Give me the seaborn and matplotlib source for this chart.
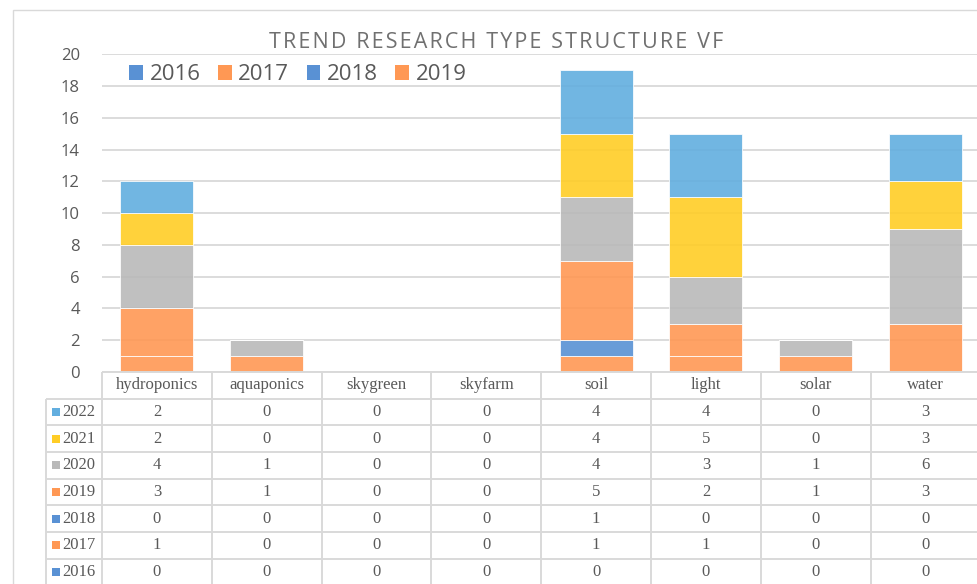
import numpy as np
import pandas as pd
import matplotlib
matplotlib.use("Agg")
import matplotlib.pyplot as plt
from matplotlib.patches import Patch, Rectangle
import seaborn as sns

categories = ['hydroponics', 'aquaponics', 'skygreen', 'skyfarm', 'soil', 'light', 'solar', 'water']
years = ['2016', '2017', '2018', '2019', '2020', '2021', '2022']
v2016 = [0, 0, 0, 0, 0, 0, 0, 0]
v2017 = [1, 0, 0, 0, 1, 1, 0, 0]
v2018 = [0, 0, 0, 0, 1, 0, 0, 0]
v2019 = [3, 1, 0, 0, 5, 2, 1, 3]
v2020 = [4, 1, 0, 0, 4, 3, 1, 6]
v2021 = [2, 0, 0, 0, 4, 5, 0, 3]
v2022 = [2, 0, 0, 0, 4, 4, 0, 3]
series = [v2016, v2017, v2018, v2019, v2020, v2021, v2022]
colors = ['#5991D4', '#FF9854', '#5991D4', '#FF9854', '#B9B9B9', '#FFCD26', '#62AEDF']
yticks = [0, 2, 4, 6, 8, 10, 12, 14, 16, 18, 20]

title = 'TREND RESEARCH TYPE STRUCTURE VF'
text_grey = '#595959'
grid_grey = '#D9D9D9'

sns.set_theme(style='white')
plt.rcParams['font.family'] = ['Open Sans', 'DejaVu Sans']

W, H = 977, 584
fig = plt.figure(figsize=(W / 100, H / 100), dpi=100)

# outer chart frame (runs off the right / bottom edge)
fig.patches.append(Rectangle((13 / W, -0.05), 1.1, 1 - 10 / H + 0.05, transform=fig.transFigure,
                             fill=False, edgecolor=grid_grey, lw=1.0))

# pixel layout
col_w = 109.8
x0_px = 102
y0_px, y20_px = 372, 54.3
ax = fig.add_axes([x0_px / W, 1 - y0_px / H, (W - x0_px) / W, (y0_px - y20_px) / H])
xmax = -0.5 + (W - x0_px) / col_w

bottom = np.zeros(len(categories))
for yr, vals, c in zip(years, series, colors):
    sns.barplot(x=categories, y=vals, bottom=bottom, color=c, saturation=1, alpha=0.9,
                width=0.665, edgecolor='white', linewidth=0.6, ax=ax, zorder=3, order=categories)
    bottom = bottom + np.array(vals)

ax.set_xlim(-0.5, xmax)
ax.set_ylim(0, 20)
ax.set_yticks(yticks)
ax.set_xticks([])
ax.set_xlabel('')
ax.set_ylabel('')
ax.yaxis.grid(True, color=grid_grey, lw=1.3, zorder=0)
ax.set_axisbelow(True)
for s in ax.spines.values():
    s.set_visible(False)
ax.tick_params(axis='y', length=0, pad=16, labelsize=12, labelcolor=text_grey)
ax.patch.set_alpha(0)

# title and (truncated) legend
spaced = '\u200a'.join(title)
fig.text(0.508, 1 - 42 / H, spaced, ha='center', va='center', fontsize=15.5,
         color='#707070')
handles = [Patch(facecolor=colors[i], edgecolor='none') for i in range(4)]
fig.legend(handles, years[:4], loc='center left', bbox_to_anchor=(129 / W, 1 - 75 / H),
           ncol=4, frameon=False, fontsize=16, handlelength=0.62, handleheight=0.62,
           handletextpad=0.3, columnspacing=0.78, borderpad=0, borderaxespad=0,
           labelcolor=text_grey)

# data table under the chart
row_h = 26.65
tab_left_px = 46
tab_h_px = H - y0_px
tax = fig.add_axes([tab_left_px / W, 0, (W - tab_left_px) / W, tab_h_px / H])
lab_left = -0.5 - (x0_px - tab_left_px) / col_w
tax.set_xlim(lab_left, xmax)
tax.set_ylim(tab_h_px / row_h, 0)
tax.axis('off')
n_rows = len(years) + 1

lk = dict(color=grid_grey, lw=1.4, solid_capstyle='butt', clip_on=False)
tax.plot([-0.5, xmax], [0, 0], **lk)
for r in range(1, n_rows):
    tax.plot([lab_left, xmax], [r, r], **lk)
for k in range(len(categories)):
    tax.plot([k - 0.5, k - 0.5], [0, n_rows], **lk)
tax.plot([lab_left, lab_left], [1, n_rows], **lk)

serif = ['Liberation Serif', 'DejaVu Serif']
for i, cat in enumerate(categories):
    tax.text(i, 0.5, cat, ha='center', va='center', fontsize=12, color=text_grey, family=serif)

for r, idx in enumerate(range(len(years) - 1, -1, -1), start=1):
    yr = years[idx]
    sq_x = lab_left + 9.5 / col_w
    tax.scatter([sq_x], [r + 0.5], marker='s', s=26, color=colors[idx], linewidths=0)
    tax.text(lab_left + 16 / col_w, r + 0.5, yr, ha='left', va='center', fontsize=12,
             color=text_grey, family=serif)
    for i, v in enumerate(series[idx]):
        tax.text(i, r + 0.5, str(v), ha='center', va='center', fontsize=12,
                 color=text_grey, family=serif)

fig.savefig('out.png', dpi=100)
